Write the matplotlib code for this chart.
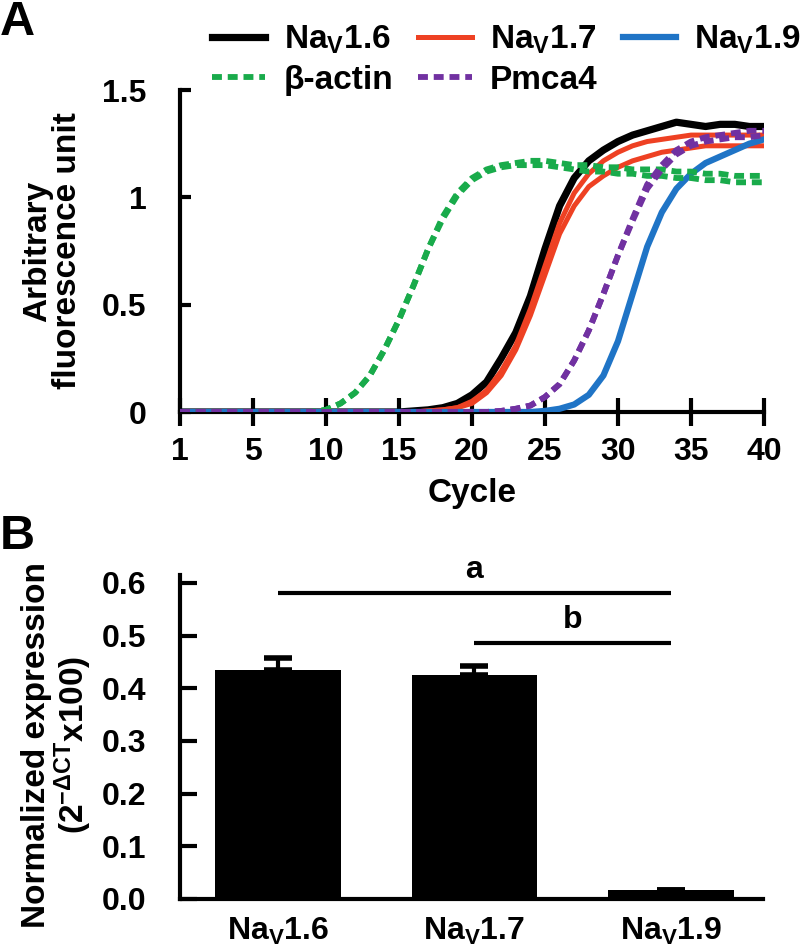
import numpy as np
import matplotlib
matplotlib.use("Agg")
import matplotlib.pyplot as plt

plt.rcParams['font.family'] = ['Liberation Sans', 'DejaVu Sans']
plt.rcParams['font.weight'] = 'bold'
plt.rcParams['mathtext.fontset'] = 'custom'
plt.rcParams['mathtext.rm'] = 'Liberation Sans:bold'
plt.rcParams['mathtext.it'] = 'Liberation Sans:bold'
plt.rcParams['mathtext.bf'] = 'Liberation Sans:bold'
plt.rcParams['mathtext.sf'] = 'Liberation Sans:bold'
plt.rcParams['mathtext.default'] = 'rm'

# ---------------- Panel A data (amplification curves) ----------------
cycle_pos = list(range(41))
cycle_tick_pos = [0, 5, 10, 15, 20, 25, 30, 35, 40]
cycle_tick_labels = ['1', '5', '10', '15', '20', '25', '30', '35', '40']

nav16 = [0]*16 + [0.005, 0.01, 0.02, 0.04, 0.08, 0.14, 0.25, 0.37, 0.54, 0.76,
                  0.96, 1.09, 1.17, 1.22, 1.26, 1.29, 1.31, 1.33, 1.35, 1.34,
                  1.33, 1.34, 1.34, 1.33, 1.33]
nav17_a = [0]*17 + [0.005, 0.01, 0.02, 0.05, 0.10, 0.19, 0.31, 0.48, 0.68, 0.88,
                    1.02, 1.11, 1.17, 1.21, 1.24, 1.26, 1.27, 1.28, 1.29, 1.29,
                    1.29, 1.29, 1.29, 1.29]
nav17_b = [0]*17 + [0.005, 0.01, 0.02, 0.04, 0.09, 0.17, 0.29, 0.45, 0.64, 0.83,
                    0.96, 1.05, 1.10, 1.14, 1.17, 1.19, 1.21, 1.22, 1.23, 1.24,
                    1.24, 1.24, 1.24, 1.24]
nav19 = [0]*25 + [0.005, 0.015, 0.035, 0.08, 0.17, 0.33, 0.55, 0.77, 0.93, 1.04,
                  1.11, 1.16, 1.19, 1.22, 1.25, 1.27]
actin_a = [0]*10 + [0.01, 0.04, 0.09, 0.17, 0.29, 0.43, 0.59, 0.76, 0.91, 1.02,
                    1.09, 1.13, 1.15, 1.16, 1.17, 1.17, 1.16, 1.15, 1.15, 1.14,
                    1.14, 1.13, 1.13, 1.13, 1.12, 1.12, 1.11, 1.11, 1.10, 1.10,
                    1.10]
actin_b = [0]*10 + [0.01, 0.04, 0.09, 0.17, 0.29, 0.43, 0.59, 0.76, 0.90, 1.01,
                    1.08, 1.12, 1.14, 1.15, 1.15, 1.15, 1.14, 1.13, 1.12, 1.12,
                    1.11, 1.11, 1.10, 1.10, 1.09, 1.09, 1.08, 1.08, 1.07, 1.07,
                    1.07]
pmca4_a = [0]*22 + [0.005, 0.015, 0.03, 0.07, 0.13, 0.24, 0.38, 0.55, 0.73, 0.90,
                    1.06, 1.15, 1.22, 1.26, 1.28, 1.29, 1.30, 1.31, 1.31]
pmca4_b = [0]*22 + [0.005, 0.015, 0.03, 0.07, 0.13, 0.24, 0.38, 0.55, 0.73, 0.89,
                    1.04, 1.13, 1.20, 1.24, 1.26, 1.27, 1.28, 1.28, 1.29]

# ---------------- Panel B data (bar chart) ----------------
bar_labels = [r'Na$_{V}$1.6', r'Na$_{V}$1.7', r'Na$_{V}$1.9']
bar_values = [0.435, 0.425, 0.017]
bar_errors = [0.022, 0.017, 0.0]

C_BLACK = '#000000'
C_RED = '#ee4123'
C_BLUE = '#1f74c6'
C_GREEN = '#19ab4b'
C_PURPLE = '#7131a1'

TICK_FS = 23
LABEL_FS = 24

W, H = 800, 950
fig = plt.figure(figsize=(8, 9.5), dpi=100)

# ---------- Panel A ----------
axA = fig.add_axes([180/W, 1-412/H, 584/W, 322/H])
dash = (0, (1.7, 1.0))
axA.plot(cycle_pos, nav16, color=C_BLACK, lw=5.2, label=r'Na$_{V}$1.6', zorder=3)
axA.plot(cycle_pos, nav17_a, color=C_RED, lw=3.6, label=r'Na$_{V}$1.7', zorder=3)
axA.plot(cycle_pos, nav17_b, color=C_RED, lw=3.6, zorder=3)
axA.plot(cycle_pos, nav19, color=C_BLUE, lw=4.5, label=r'Na$_{V}$1.9', zorder=3)
axA.plot(cycle_pos, actin_a, color=C_GREEN, lw=4.2, ls=dash, label='β-actin', zorder=4)
axA.plot(cycle_pos, actin_b, color=C_GREEN, lw=4.2, ls=dash, zorder=4)
axA.plot(cycle_pos, pmca4_a, color=C_PURPLE, lw=4.2, ls=dash, label='Pmca4', zorder=4)
axA.plot(cycle_pos, pmca4_b, color=C_PURPLE, lw=4.2, ls=dash, zorder=4)

axA.set_xlim(0, 40)
axA.set_ylim(0, 1.5)
axA.set_xticks(cycle_tick_pos)
axA.set_xticklabels(cycle_tick_labels)
axA.set_yticks([0, 0.5, 1, 1.5])
axA.set_yticklabels(['0', '0.5', '1', '1.5'])
for s in ['top', 'right']:
    axA.spines[s].set_visible(False)
for s in ['left', 'bottom']:
    axA.spines[s].set_linewidth(3)
axA.tick_params(axis='y', direction='in', length=8, width=3, pad=24, labelsize=TICK_FS)
axA.tick_params(axis='x', direction='inout', length=20, width=3, pad=8, labelsize=TICK_FS)
axA.set_xlabel('Cycle', fontsize=LABEL_FS, fontweight='bold', labelpad=8)
axA.set_ylabel('Arbitrary\nfluorescence unit', fontsize=LABEL_FS, fontweight='bold',
               linespacing=0.95, labelpad=14)

handles, labels = axA.get_legend_handles_labels()
order = [0, 3, 1, 4, 2]
leg = fig.legend([handles[i] for i in order], [labels[i] for i in order],
                 loc='upper left', bbox_to_anchor=(212/W, 1-24/H), ncol=3,
                 frameon=False, fontsize=LABEL_FS, handlelength=1.6, handletextpad=0.55,
                 columnspacing=0.75, labelspacing=0.25, borderpad=0, borderaxespad=0)

fig.text(0/W, 1-0/H, 'A', fontsize=35, fontweight='bold', va='top', ha='left')

# ---------- Panel B ----------
axB = fig.add_axes([180/W, 1-899/H, 583/W, 324/H])
xpos = list(range(len(bar_values)))
axB.bar(xpos, bar_values, width=0.64, color='black', zorder=2)
axB.errorbar(xpos, bar_values, yerr=[[0]*len(bar_errors), bar_errors], fmt='none',
             ecolor='black', elinewidth=3, capsize=10, capthick=4, zorder=1)
axB.set_xlim(-0.5, 2.47)
axB.set_ylim(0, 0.615)
axB.set_yticks([0.0, 0.1, 0.2, 0.3, 0.4, 0.5, 0.6])
axB.set_yticklabels(['0.0', '0.1', '0.2', '0.3', '0.4', '0.5', '0.6'])
axB.set_xticks(xpos)
axB.set_xticklabels(bar_labels)
for s in ['top', 'right']:
    axB.spines[s].set_visible(False)
for s in ['left', 'bottom']:
    axB.spines[s].set_linewidth(3)
axB.tick_params(axis='y', direction='in', length=12, width=3, pad=24, labelsize=TICK_FS)
axB.tick_params(axis='x', length=0, pad=12, labelsize=TICK_FS)
axB.set_ylabel('Normalized expression\n' + r'(2$^{-ΔCT}$x100)', fontsize=LABEL_FS,
               fontweight='bold', linespacing=1.0)
axB.yaxis.set_label_coords(-0.148, 0.475)

# significance bars
axB.plot([0, 2], [0.581, 0.581], color='black', lw=3, solid_capstyle='butt')
axB.text(1, 0.596, 'a', ha='center', va='bottom', fontsize=TICK_FS, fontweight='bold')
axB.plot([1, 2], [0.486, 0.486], color='black', lw=3, solid_capstyle='butt')
axB.text(1.5, 0.501, 'b', ha='center', va='bottom', fontsize=TICK_FS, fontweight='bold')

fig.text(0/W, 1-514/H, 'B', fontsize=35, fontweight='bold', va='top', ha='left')

fig.savefig('out.png', dpi=100)
